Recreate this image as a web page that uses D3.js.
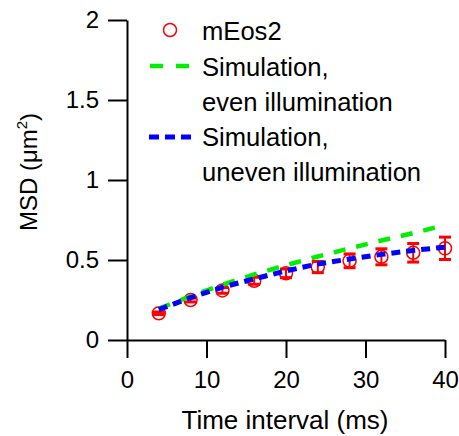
<!DOCTYPE html>
<html>
<head>
<meta charset="utf-8">
<script src="https://cdn.jsdelivr.net/npm/d3@7"></script>
<style>
  html, body { margin: 0; padding: 0; background: #fff; }
  svg { display: block; font-family: "Liberation Sans", Arial, sans-serif; }
</style>
</head>
<body>
<svg id="chart" width="459" height="436"></svg>
<script>
// Time intervals (ms)
const timeInterval = [4, 8, 12, 16, 20, 24, 28, 32, 36, 40];
// Measured mEos2 MSD (µm²) and its error
const msdMeasured = [0.167, 0.25, 0.31, 0.37, 0.417, 0.456, 0.495, 0.52, 0.545, 0.573];
const msdError = [0.008, 0.012, 0.018, 0.022, 0.027, 0.035, 0.043, 0.05, 0.058, 0.07];
// Simulated MSD curves
const simEven = [0.196, 0.274, 0.345, 0.41, 0.468, 0.522, 0.573, 0.622, 0.668, 0.718];
const simUneven = [0.19, 0.265, 0.33, 0.382, 0.432, 0.475, 0.506, 0.535, 0.56, 0.58];
// Axis ticks
const xTicks = [0, 10, 20, 30, 40];
const yTicks = [0, 0.5, 1, 1.5, 2];

const svg = d3.select("#chart");
const x = d3.scaleLinear().domain([0, 40]).range([127, 445]);
const y = d3.scaleLinear().domain([0, 2]).range([340, 20]);

// Axes
const xAxis = svg.append("g")
  .attr("transform", `translate(0,${y(0)})`)
  .call(d3.axisBottom(x).tickValues(xTicks).tickFormat(d3.format("d"))
    .tickSize(18).tickSizeOuter(0).tickPadding(13));
const yAxis = svg.append("g")
  .attr("transform", `translate(${x(0)},0)`)
  .call(d3.axisLeft(y).tickValues(yTicks).tickFormat(d => String(d))
    .tickSize(19).tickSizeOuter(0).tickPadding(9));
[xAxis, yAxis].forEach(g => {
  g.selectAll("path, line").attr("stroke", "#000").attr("stroke-width", 2);
  g.selectAll("text").attr("fill", "#000").attr("font-size", 24)
    .attr("font-family", "'Liberation Sans', Arial, sans-serif");
});

// Axis titles
svg.append("text")
  .attr("x", 285).attr("y", 429)
  .attr("text-anchor", "middle").attr("font-size", 26)
  .text("Time interval (ms)");
const yTitle = svg.append("text")
  .attr("transform", "translate(37,172) rotate(-90)")
  .attr("text-anchor", "middle").attr("font-size", 24);
yTitle.append("tspan").text("MSD (μm");
yTitle.append("tspan").attr("font-size", 15).attr("dy", -10).text("2");
yTitle.append("tspan").attr("dy", 10).text(")");

// Measured points with error bars
const pts = timeInterval.map((t, i) => ({ t, v: msdMeasured[i], e: msdError[i] }));
const eb = svg.append("g").attr("stroke", "#ff0000").attr("fill", "none");
pts.forEach(p => {
  const cx = x(p.t);
  eb.append("line").attr("x1", cx).attr("x2", cx)
    .attr("y1", y(p.v - p.e)).attr("y2", y(p.v + p.e)).attr("stroke-width", 2);
  [p.v - p.e, p.v + p.e].forEach(v => {
    eb.append("line").attr("x1", cx - 6).attr("x2", cx + 6)
      .attr("y1", y(v)).attr("y2", y(v)).attr("stroke-width", 3);
  });
  eb.append("circle").attr("cx", cx).attr("cy", y(p.v)).attr("r", 6.5)
    .attr("stroke-width", 1.5);
});

// Simulation curves
const line = d3.line().x(d => x(d[0])).y(d => y(d[1]));
svg.append("path")
  .datum(timeInterval.map((t, i) => [t, simEven[i]]))
  .attr("d", line).attr("fill", "none")
  .attr("stroke", "#00ee00").attr("stroke-width", 4.5)
  .attr("stroke-dasharray", "12,11");
svg.append("path")
  .datum(timeInterval.map((t, i) => [t, simUneven[i]]))
  .attr("d", line).attr("fill", "none")
  .attr("stroke", "#0000ff").attr("stroke-width", 5)
  .attr("stroke-dasharray", "9,6");

// Legend
const legend = svg.append("g").attr("font-size", 25.6);
legend.append("circle").attr("cx", 170).attr("cy", 30).attr("r", 6.5)
  .attr("fill", "none").attr("stroke", "#ff0000").attr("stroke-width", 1.5);
legend.append("line").attr("x1", 150).attr("x2", 189).attr("y1", 66).attr("y2", 66)
  .attr("stroke", "#00ee00").attr("stroke-width", 4.5).attr("stroke-dasharray", "13,13");
legend.append("line").attr("x1", 149).attr("x2", 191).attr("y1", 137).attr("y2", 137)
  .attr("stroke", "#0000ff").attr("stroke-width", 5).attr("stroke-dasharray", "10,6");
const legendRows = [
  ["mEos2", 40], ["Simulation,", 76], ["even illumination", 111],
  ["Simulation,", 146], ["uneven illumination", 181]
];
legendRows.forEach(([txt, by]) => {
  legend.append("text").attr("x", 202).attr("y", by).text(txt);
});
</script>
</body>
</html>
